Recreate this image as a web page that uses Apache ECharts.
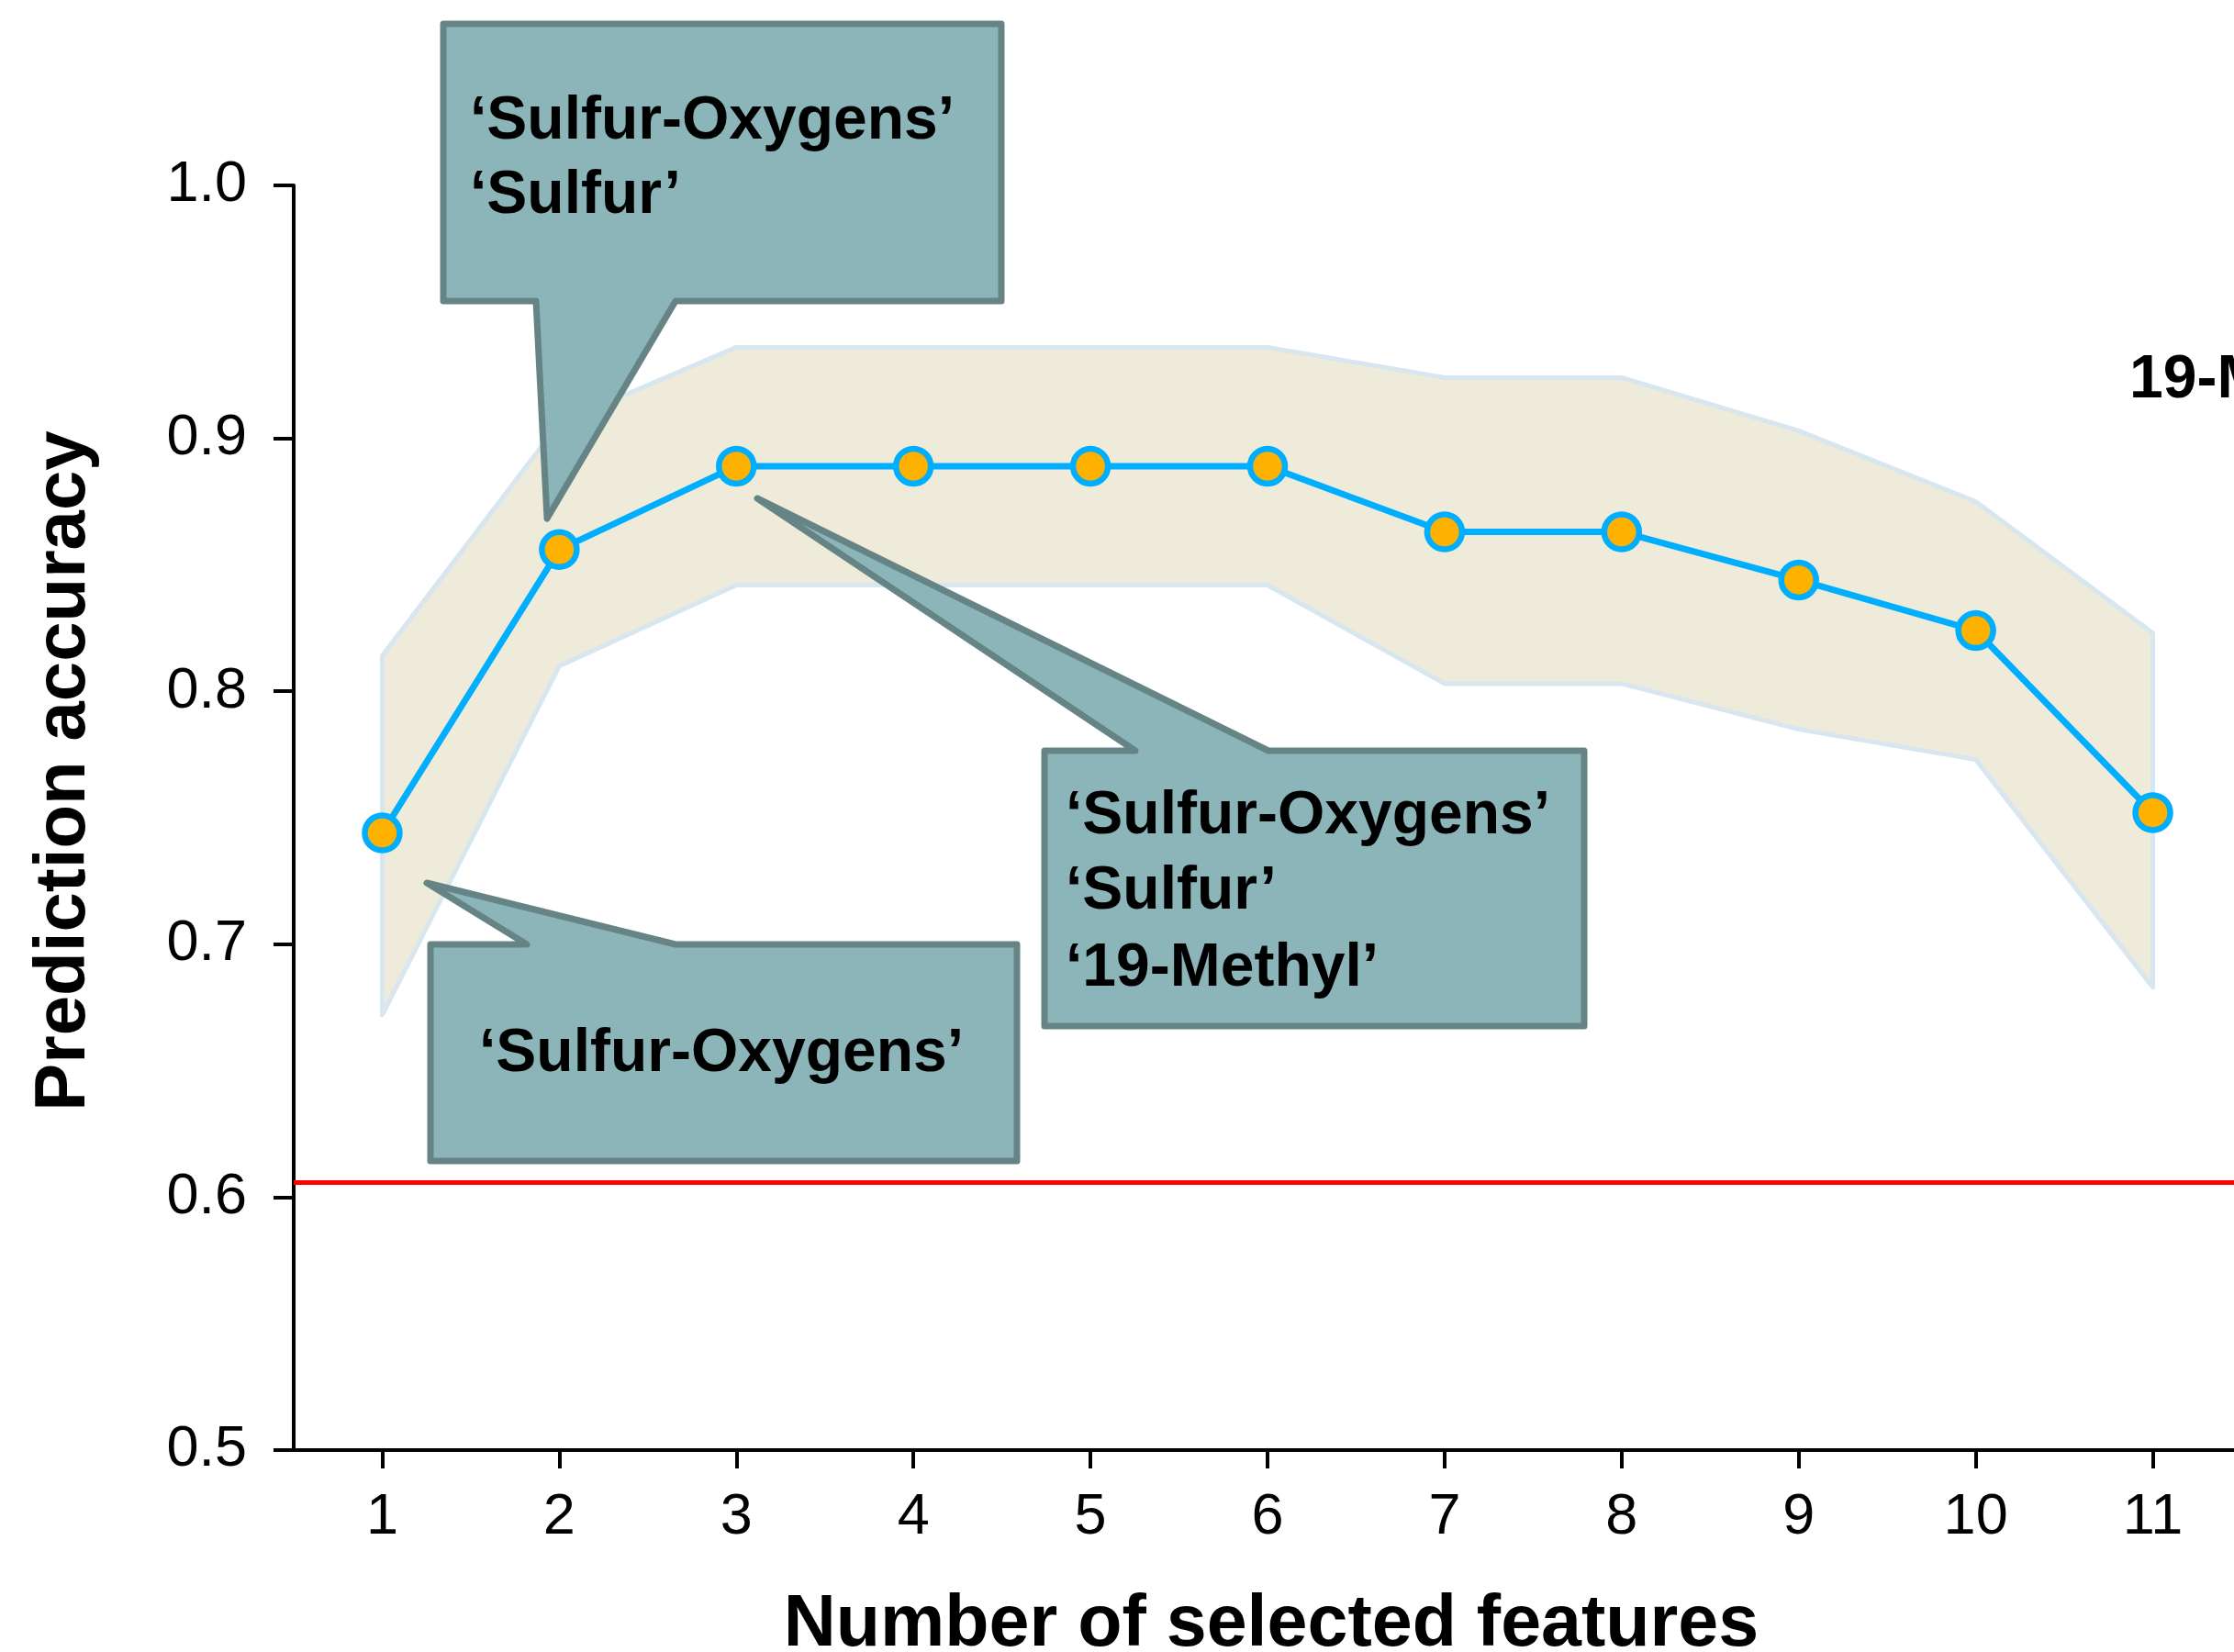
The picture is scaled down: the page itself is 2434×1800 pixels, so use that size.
<!DOCTYPE html>
<html>
<head>
<meta charset="utf-8">
<script src="https://cdn.jsdelivr.net/npm/echarts@6/dist/echarts.min.js"></script>
<style>
html,body{margin:0;padding:0;background:#fff;overflow:hidden;}
#chart{width:2434px;height:1800px;}
</style>
</head>
<body>
<div id="chart"></div>
<script>
const categories = ['1', '2', '3', '4', '5', '6', '7', '8', '9', '10', '11'];
const accuracy   = [0.744, 0.856, 0.889, 0.889, 0.889, 0.889, 0.863, 0.863, 0.844, 0.824, 0.752];
const upperBound = [0.814, 0.906, 0.936, 0.936, 0.936, 0.936, 0.924, 0.924, 0.903, 0.875, 0.823];
const lowerBound = [0.672, 0.810, 0.842, 0.842, 0.842, 0.842, 0.803, 0.803, 0.785, 0.773, 0.683];
const chanceLevel = 0.606;
const yTicks = [0.5, 0.6, 0.7, 0.8, 0.9, 1.0];
const xTitle = 'Number of selected features';
const yTitle = 'Prediction accuracy';
const calloutA = ['‘Sulfur-Oxygens’', '‘Sulfur’'];
const calloutB = ['‘Sulfur-Oxygens’', '‘Sulfur’', '‘19-Methyl’'];
const calloutC = ['‘Sulfur-Oxygens’'];
const calloutD = ['19-Methyl'];

const FONT = '"Liberation Sans", Arial, Helvetica, sans-serif';
const boxFill = '#8bb5b8';
const boxStroke = '#668486';
const boxTextFont = 'bold 66px ' + FONT;

function callout(points) {
  return {
    type: 'polygon', z: 100,
    shape: { points: points },
    style: { fill: boxFill, stroke: boxStroke, lineWidth: 7, lineJoin: 'round' }
  };
}
function boxText(text, x, y, align) {
  return {
    type: 'text', z: 101, x: x, y: y,
    style: { text: text, font: boxTextFont, fill: '#000', align: align || 'left', verticalAlign: 'middle' }
  };
}

const chart = echarts.init(document.getElementById('chart'));
const option = {
  animation: false,
  backgroundColor: '#ffffff',
  grid: { left: 320, right: -8, top: 202, bottom: 220, containLabel: false, outerBoundsMode: 'none' },
  xAxis: {
    type: 'category',
    data: categories,
    boundaryGap: true,
    axisLine: { show: true, lineStyle: { color: '#000', width: 4 } },
    axisTick: { show: true, alignWithLabel: true, length: 20, lineStyle: { color: '#000', width: 4 } },
    axisLabel: { fontSize: 63, fontFamily: FONT, color: '#000', margin: 42 },
    splitLine: { show: false }
  },
  yAxis: {
    type: 'value',
    min: 0.5, max: 1.0, interval: 0.1,
    axisLine: { show: true, lineStyle: { color: '#000', width: 4 } },
    axisTick: { show: true, length: 22, lineStyle: { color: '#000', width: 4 } },
    axisLabel: {
      fontSize: 63, fontFamily: FONT, color: '#000', margin: 51,
      formatter: function (v) {
        const t = yTicks.find(function (k) { return Math.abs(k - v) < 1e-6; });
        return t !== undefined ? t.toFixed(1) : '';
      }
    },
    splitLine: { show: false }
  },
  series: [
    {
      type: 'custom',
      z: 1,
      silent: true,
      data: categories.map(function (c, i) { return [i, upperBound[i], lowerBound[i]]; }),
      encode: { x: 0, y: [1, 2] },
      renderItem: function (params, api) {
        if (params.dataIndex !== 0) return null;
        const pts = [];
        for (let i = 0; i < categories.length; i++) pts.push(api.coord([i, upperBound[i]]));
        for (let i = categories.length - 1; i >= 0; i--) pts.push(api.coord([i, lowerBound[i]]));
        return {
          type: 'polygon',
          shape: { points: pts },
          style: { fill: '#eeebda', stroke: '#d8e6f0', lineWidth: 5, lineJoin: 'round' }
        };
      }
    },
    {
      type: 'line',
      z: 5,
      data: accuracy,
      symbol: 'circle',
      symbolSize: 38,
      lineStyle: { color: '#00aeff', width: 7 },
      itemStyle: { color: '#ffb100', borderColor: '#00aeff', borderWidth: 6.5 },
      markLine: {
        silent: true,
        precision: 4,
        symbol: ['none', 'none'],
        label: { show: false },
        lineStyle: { color: '#ff0000', width: 5, type: 'solid' },
        data: [{ yAxis: chanceLevel }]
      }
    }
  ],
  graphic: [
    {
      type: 'text', x: 70, y: 840, rotation: Math.PI / 2,
      style: { text: yTitle, font: 'bold 78px ' + FONT, fill: '#000', align: 'center', verticalAlign: 'middle' }
    },
    {
      type: 'text', x: 1385, y: 1771,
      style: { text: xTitle, font: 'bold 79px ' + FONT, fill: '#000', align: 'center', verticalAlign: 'middle' }
    },
    callout([[483, 26], [1091, 26], [1091, 328], [736, 328], [596, 565], [584, 328], [483, 328]]),
    boxText(calloutA[0], 512, 133),
    boxText(calloutA[1], 512, 214),
    callout([[1138, 818], [1237, 818], [825, 543], [1382, 818], [1726, 818], [1726, 1118], [1138, 1118]]),
    boxText(calloutB[0], 1161, 890),
    boxText(calloutB[1], 1161, 972),
    boxText(calloutB[2], 1161, 1056),
    callout([[469, 1029], [574, 1029], [465, 962], [736, 1029], [1108, 1029], [1108, 1265], [469, 1265]]),
    boxText(calloutC[0], 786, 1149, 'center'),
    boxText(calloutD[0], 2320, 415)
  ]
};
chart.setOption(option);
</script>
</body>
</html>
